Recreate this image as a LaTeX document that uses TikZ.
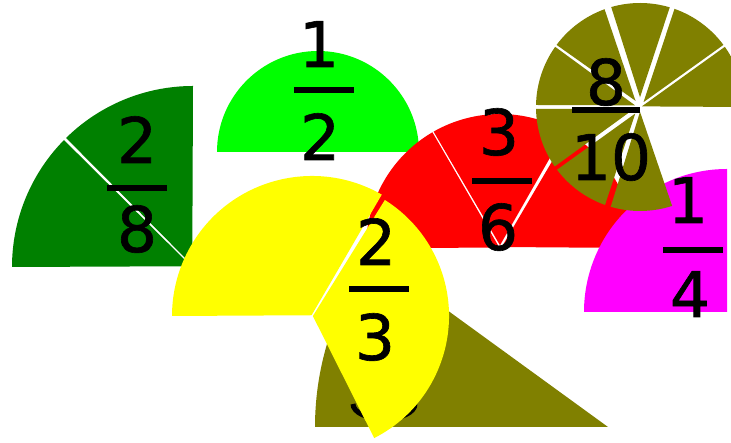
\documentclass[tikz,border=0pt]{standalone}
\usepackage{fontspec}
\setmainfont{DejaVu Sans}
\newfontfamily\digfont{DejaVu Sans}[FakeBold=1]
\usetikzlibrary{calc}
\definecolor{dkgreen}{RGB}{0,128,0}
\definecolor{ltgreen}{RGB}{0,255,0}
\definecolor{olivec}{RGB}{128,128,0}
\definecolor{mag}{RGB}{255,0,255}
\definecolor{yel}{RGB}{255,255,0}
\definecolor{redc}{RGB}{255,0,0}
% wedge: cx cy r a1 a2 halfgap1 halfgap2 colour
\newcommand\wdg[8]{%
  \fill[#8] ($(#1,#2)+({(#4+#5)/2}:{(#6+#7)/2/sin((#5-#4)/2)})$)
    -- ({#1+#3*cos(#4+#6/#3*57.2958)},{#2+#3*sin(#4+#6/#3*57.2958)})
    arc[start angle={#4+#6/#3*57.2958}, end angle={#5-#7/#3*57.2958}, radius=#3]
    -- cycle;}
\newcommand\fracbar[3]{\fill[black] ({#1-#3/2},{#2-3}) rectangle ({#1+#3/2},{#2+3});}
\begin{document}
\begin{tikzpicture}[x=1pt,y=1pt,
  digit/.style={font=\digfont\fontsize{63}{63}\selectfont, inner sep=0pt, anchor=base}]
\useasboundingbox (0,0) rectangle (731,443);
\clip (0,0) rectangle (731,443);
\fill[white] (0,0) rectangle (731,443);

% 2/8 dark green
\wdg{193}{176}{181}{90}{135}{0}{1.5}{dkgreen}
\wdg{193}{176}{181}{135}{180}{1.5}{0}{dkgreen}
\node[digit] (n28) at (137,280) {2};
\fracbar{137}{255}{60}
\node[digit] (d28) at (137,191) {8};

% 1/2 light green
\wdg{318}{291}{101}{0}{180}{0}{0}{ltgreen}
\node[digit] (n12) at (319,376) {1};
\fracbar{324}{353}{60}
\node[digit] (d12) at (320,283) {2};

% 3/6 red
\wdg{500}{195}{134}{0}{60}{0}{2}{redc}
\wdg{500}{195}{134}{60}{120}{2}{0.7}{redc}
\wdg{500}{195}{134}{120}{180}{0.7}{0}{redc}
\node[digit] (n36) at (499,288) {3};
\fracbar{502}{262}{60}
\node[digit] (d36) at (498,193) {6};

% 1/4 magenta
\wdg{727}{131}{143}{90}{180}{0}{0}{mag}
\node[digit] (n14) at (688,220) {1};
\fracbar{693}{193}{60}
\node[digit] (d14) at (690,126) {4};

% 8/10 olive circle
\wdg{640}{336}{104}{0}{36}{0}{1.2}{olivec}
\wdg{640}{336}{104}{36}{72}{1.2}{2.5}{olivec}
\wdg{640}{336}{104}{72}{108}{2.5}{3.5}{olivec}
\wdg{640}{336}{104}{108}{144}{3.5}{1.2}{olivec}
\wdg{640}{336}{104}{144}{180}{1.2}{2}{olivec}
\wdg{640}{336}{104}{180}{216}{2}{2}{olivec}
\wdg{640}{336}{104}{216}{252}{2}{3}{olivec}
\wdg{640}{336}{104}{252}{288}{3}{0}{olivec}
\node[digit] (n810) at (606,338) {8};
\fracbar{606}{333}{68}
\node[digit] (d810) at (611,263) {10};

% olive wedge at the bottom, its label hidden under the yellow
\wdg{608}{16}{293}{144}{180}{0}{0}{olivec}
\draw[line width=5pt] (353,39) arc[start angle=180, end angle=360, x radius=31, y radius=15];

% 2/3 yellow
\wdg{312}{127}{140}{59.5}{180}{1.5}{0}{yel}
\wdg{312}{127}{137}{-63}{58.5}{0}{1.5}{yel}
\node[digit] (n23) at (376,178) {2};
\fracbar{379}{154}{60}
\node[digit] (d23) at (375,83) {3};
\end{tikzpicture}
\end{document}
